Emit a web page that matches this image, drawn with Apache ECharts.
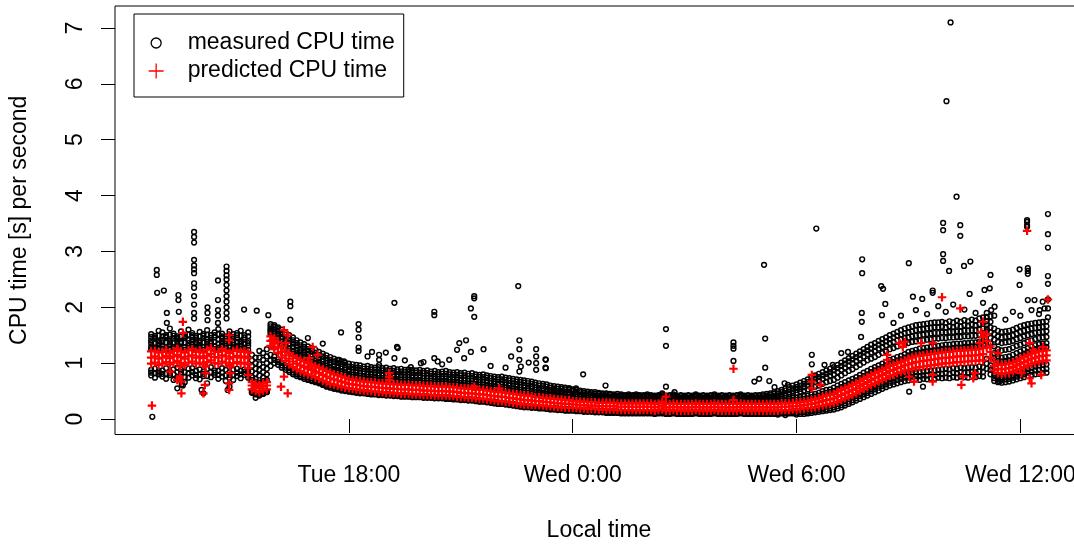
<!DOCTYPE html>
<html>
<head>
<meta charset="utf-8">
<script src="https://cdn.jsdelivr.net/npm/echarts@6/dist/echarts.min.js"></script>
<style>
  html, body { margin: 0; padding: 0; background: #fff; }
  #chart { width: 1074px; height: 546px; }
</style>
</head>
<body>
<div id="chart"></div>
<script>
// Samples every 6 minutes starting Tue 12:42 (hours counted from Tue 0:00).
// Values in hundredths of a CPU second per second.
// First line of each array: 12:42-12:54, then one line per hour, last line 36:00-36:42.
const firstSampleHour = 12.7;
const sampleStepHours = 0.1;

// Measured CPU time: several readings per sample, from the top of the cloud downwards
const measured1 = [152,149,158,
155,150,162,153,148,157,151,160,154,149,
156,152,159,150,155,161,153,148,157,152,
154,158,150,155,115,110,122,118,125,170,
168,164,160,155,150,146,141,137,134,130,
127,124,120,117,114,111,108,106,103,101,
99,98,97,96,94,95,93,92,93,91,
92,90,91,89,90,88,89,88,87,88,
86,87,85,86,84,85,86,84,83,84,
82,83,81,82,80,79,80,78,77,76,
75,76,74,73,72,71,70,69,68,67,
65,64,63,62,60,59,58,57,56,55,
53,52,51,50,49,48,48,47,46,46,
45,44,45,44,43,44,43,44,43,43,
44,43,42,43,46,42,43,44,42,43,
42,43,42,44,42,43,42,43,44,42,
43,42,43,42,43,44,42,43,42,43,
43,44,45,46,48,50,52,55,57,60,
62,65,68,71,74,78,81,84,87,90,
93,97,101,105,109,113,117,121,125,129,
133,136,140,143,146,150,153,156,159,162,
164,166,168,169,170,171,172,173,173,174,
172,175,173,176,174,177,175,178,176,180,
182,190,184,162,158,156,157,158,160,163,
166,168,170,171,172,173,174,175];

const measured2 = [147,146,149,
148,148,151,149,145,148,148,151,150,146,
148,149,151,145,150,152,148,144,150,147,
150,149,146,148,105,100,110,106,112,166,
165,161,156,151,145,141,136,132,129,125,
122,119,115,112,109,106,103,101,99,97,
94,93,92,91,90,90,89,88,88,87,
87,86,86,85,85,84,84,83,83,83,
82,82,81,81,80,81,81,80,79,79,
78,78,77,77,76,75,75,74,73,72,
71,71,70,69,68,67,66,65,64,63,
61,60,59,58,56,55,54,54,53,52,
50,49,48,47,46,46,45,45,44,44,
43,42,42,42,41,42,41,42,41,41,
42,41,40,41,44,40,41,42,40,41,
40,41,40,42,40,41,40,41,42,40,
41,40,41,40,41,42,40,41,40,41,
41,41,42,43,45,46,48,51,53,55,
57,60,63,66,69,72,75,78,81,84,
87,91,95,99,103,107,111,115,119,123,
126,129,133,136,139,143,146,149,151,154,
155,157,159,160,161,162,163,164,164,165,
164,166,165,167,166,168,167,169,168,170,
172,183,174,152,148,146,147,148,150,153,
156,158,160,162,163,164,165,166];

const measured3 = [141,144,139,
142,146,140,144,143,138,145,141,147,142,
140,145,143,139,146,142,144,140,143,141,
145,139,142,140,95,90,98,93,100,162,
162,158,152,146,140,135,130,126,123,120,
116,113,110,107,104,101,98,96,94,92,
89,88,87,86,85,84,84,83,82,82,
81,81,80,80,79,79,79,78,78,78,
77,77,77,76,76,76,76,75,75,74,
73,73,72,72,71,70,70,69,68,67,
66,66,65,64,63,62,61,60,59,58,
56,55,54,53,52,51,50,50,49,48,
46,45,44,44,43,43,42,42,41,41,
40,40,39,39,39,39,39,39,39,39,
39,39,38,39,41,38,38,39,38,38,
38,38,38,39,38,38,38,38,39,38,
38,38,38,38,38,39,38,38,38,38,
38,38,39,40,41,42,44,46,48,50,
52,54,57,60,63,66,69,72,75,78,
80,84,88,92,96,100,104,108,112,116,
119,122,126,129,132,136,138,141,143,145,
146,148,149,150,151,152,153,154,154,155,
155,156,156,157,157,158,158,159,159,160,
162,175,164,142,138,136,137,138,140,143,
145,148,150,152,154,155,156,157];

const measured4 = [136,136,136,
137,137,137,137,138,137,137,136,141,136,
137,137,138,138,138,135,139,136,136,137,
138,137,135,136,85,81,88,84,90,159,
157,152,146,140,134,129,124,121,118,115,
112,109,106,103,100,97,94,92,90,88,
85,84,83,82,81,80,80,79,78,78,
77,77,76,76,75,75,75,74,74,74,
73,73,73,72,72,72,72,71,71,70,
69,69,68,68,67,66,66,65,64,63,
62,62,61,60,59,58,57,56,55,54,
52,52,51,50,49,48,47,47,46,46,
43,43,42,42,41,41,40,40,39,39,
38,38,37,37,37,37,37,37,37,37,
37,37,36,37,39,36,36,37,36,36,
36,36,36,37,36,36,36,36,37,36,
36,36,36,36,36,37,36,36,36,36,
36,36,37,38,38,39,41,42,44,46,
47,49,51,53,56,58,60,63,66,68,
70,74,78,82,86,89,93,97,101,105,
108,111,115,118,121,125,127,130,132,134,
136,138,139,140,141,142,143,144,144,145,
145,146,146,147,147,148,148,149,149,150,
152,168,155,130,125,123,124,125,128,131,
133,136,139,141,143,145,146,147];

const measured5 = [130,128,133,
131,127,134,129,132,136,128,131,135,130,
133,129,132,136,130,128,134,131,129,133,
130,134,128,131,75,72,78,74,80,156,
152,146,139,133,127,122,118,115,112,109,
107,104,101,98,95,92,89,87,85,83,
80,79,78,77,76,75,75,74,73,73,
72,72,71,71,70,70,70,69,69,69,
68,68,68,67,67,67,67,66,66,65,
64,64,63,63,62,61,61,60,59,58,
57,57,56,55,54,53,52,51,51,50,
48,48,47,46,46,45,44,44,43,43,
40,40,39,39,38,38,38,37,37,37,
36,36,35,35,35,35,35,35,35,35,
35,35,34,35,37,34,34,35,34,34,
34,34,34,35,34,34,34,34,35,34,
34,34,34,34,34,35,34,34,34,34,
34,34,34,35,35,36,37,38,39,41,
38,39,41,42,44,45,47,50,52,53,
56,60,63,66,69,72,75,79,83,86,
90,93,96,99,102,106,108,111,113,116,
120,122,124,126,127,128,129,130,131,132,
133,133,134,135,135,136,136,137,137,138,
140,162,145,118,112,110,111,112,115,118,
121,124,127,130,132,134,135,136];

const measured6 = [125,125,126,
125,126,124,126,129,125,124,127,129,125,
128,124,128,131,125,124,129,127,123,127,
127,125,125,124,70,67,65,68,70,152,
148,141,134,128,122,117,113,110,107,104,
102,99,96,93,90,87,85,83,81,79,
76,75,74,73,72,71,71,70,69,69,
68,68,67,67,66,66,66,65,65,65,
64,64,64,63,63,63,63,62,62,61,
60,60,59,59,58,57,57,56,55,54,
53,53,52,51,50,49,48,47,47,46,
44,44,43,42,42,41,40,40,39,39,
36,36,35,35,34,34,34,33,33,33,
33,33,32,32,32,32,32,32,32,32,
32,32,31,32,34,31,31,32,31,31,
31,31,31,32,31,31,31,31,32,31,
31,31,31,31,31,32,31,31,31,31,
31,31,31,32,32,32,33,33,33,34,
34,35,36,37,39,40,42,45,47,48,
50,54,57,60,63,66,69,73,77,80,
84,87,90,93,96,100,102,105,107,110,
114,116,118,119,120,121,122,123,124,125,
126,126,127,128,128,129,129,130,130,131,
133,157,136,109,104,103,104,105,107,110,
114,117,120,123,125,127,128,129];

const measured7 = [88,90,86,
87,91,85,89,92,88,84,90,91,86,
89,85,90,93,87,86,91,88,84,88,
90,86,89,85,50,47,45,48,50,115,
112,107,101,96,91,87,83,80,78,75,
73,70,68,65,62,60,58,56,55,53,
52,51,50,49,48,48,47,46,46,45,
45,44,44,43,43,43,42,42,42,41,
41,41,40,40,40,39,39,39,38,38,
37,36,36,35,35,34,33,33,32,31,
30,29,28,28,27,26,25,24,23,23,
22,22,21,21,20,20,19,19,18,18,
17,17,17,16,16,16,15,15,15,14,
14,14,14,13,13,13,13,13,13,13,
13,13,12,13,14,12,12,13,12,12,
12,12,12,13,12,12,12,12,13,12,
12,12,12,12,12,13,12,12,12,12,
12,12,12,12,12,12,13,13,13,14,
14,15,15,16,17,18,19,20,22,23,
25,27,30,33,36,39,42,46,50,53,
56,59,62,65,68,71,73,76,78,80,
81,82,84,84,85,86,87,87,88,89,
90,89,91,90,92,91,92,93,92,94,
93,108,96,79,76,75,76,77,79,82,
84,86,89,92,94,96,97,98];

const measured8 = [83,82,83,
81,81,82,80,84,84,75,82,84,79,
80,81,77,84,83,79,83,78,79,79,
83,80,84,80,48,45,43,46,49,105,
106,102,96,92,87,83,80,77,75,72,
70,68,66,63,60,58,56,54,53,51,
50,49,48,47,47,46,45,45,44,44,
43,43,42,42,41,41,41,40,40,40,
39,39,39,38,38,38,37,37,36,36,
35,35,34,34,33,32,32,31,30,29,
28,28,27,26,25,24,23,22,22,21,
21,20,20,19,18,18,17,17,16,16,
16,15,15,14,14,14,13,13,13,12,
12,12,12,11,11,11,11,11,11,11,
11,11,10,11,12,10,10,11,10,10,
10,10,10,11,10,10,10,10,11,10,
10,10,10,10,10,11,10,10,10,10,
10,10,10,10,10,10,11,10,11,12,
11,12,12,13,14,15,16,17,18,19,
21,23,25,28,31,34,37,41,44,47,
50,53,56,59,62,65,67,70,72,74,
75,76,77,77,78,78,80,79,81,81,
82,81,83,82,84,83,83,84,84,85,
84,99,88,73,71,70,71,72,74,76,
78,80,83,85,87,88,89,90];

const measured9 = [78,74,80,
76,72,79,70,75,81,66,74,78,73,
71,77,64,75,79,72,76,68,74,70,
77,73,79,74,47,44,42,45,48,95,
100,97,92,88,84,80,77,75,72,70,
68,66,64,61,58,56,54,53,51,50,
49,48,47,46,46,45,44,44,43,43,
42,42,41,41,40,40,40,39,39,39,
38,38,38,37,37,37,36,36,35,35,
34,34,33,33,32,31,31,30,29,28,
27,27,26,25,24,23,22,21,21,20,
20,19,19,18,17,17,16,16,15,15,
15,14,14,13,13,13,12,12,12,11,
11,11,11,10,10,10,10,10,10,10,
10,10,9,10,10,9,9,10,9,9,
9,9,9,10,9,9,9,9,10,9,
9,9,9,9,9,10,9,9,9,9,
9,9,9,9,9,8,10,7,10,10,
8,9,9,10,11,12,13,14,15,16,
17,19,21,24,27,30,33,36,39,42,
45,48,51,54,57,60,62,64,66,68,
69,70,71,70,72,71,73,72,74,73,
74,73,75,74,76,75,74,76,75,77,
76,90,80,68,66,65,66,67,69,71,
73,75,77,79,80,81,82,83];

// Predicted CPU time: upper edge, centre and lower edge of the model band per sample
const predictedUpper = [121,122,119,
120,124,118,122,126,121,119,123,125,120,
123,119,124,127,121,120,125,122,118,122,
124,120,122,119,66,63,61,64,66,148,
145,138,130,124,118,113,109,106,103,100,
98,95,92,89,86,83,80,78,76,74,
71,70,69,68,67,66,66,65,64,64,
63,63,62,62,61,61,61,60,60,60,
59,59,59,58,58,58,58,57,57,56,
55,55,54,54,53,52,52,51,50,49,
48,48,47,46,45,44,43,42,42,41,
39,39,38,37,37,36,35,35,34,34,
32,32,31,31,30,30,30,29,29,29,
29,29,28,28,28,28,28,28,28,28,
28,28,27,28,31,27,27,28,27,27,
27,27,27,28,27,27,27,27,28,27,
27,27,27,27,27,28,27,27,27,27,
27,27,27,27,27,27,28,28,28,29,
29,30,31,32,34,35,37,40,42,43,
45,49,52,55,58,61,64,68,72,75,
79,82,85,88,91,95,97,100,102,105,
108,110,112,113,114,115,116,117,118,119,
120,120,121,122,122,123,123,124,124,125,
127,152,130,103,98,97,98,99,101,104,
108,111,114,117,119,121,122,123];

const predictedCentre = [110,112,108,
110,113,109,112,115,111,108,112,114,110,
112,109,113,116,111,110,114,112,108,111,
113,110,112,109,60,57,55,58,60,140,
135,128,120,114,108,103,99,96,93,90,
88,85,82,79,76,73,71,69,67,65,
63,62,61,60,59,58,58,57,56,56,
55,55,54,54,53,53,53,52,52,52,
51,51,51,50,50,50,50,49,49,48,
47,47,46,46,45,44,44,43,42,41,
40,40,39,38,37,36,35,34,34,33,
32,32,31,30,30,29,28,28,27,27,
26,26,25,25,24,24,24,23,23,23,
23,23,22,22,22,22,22,22,22,22,
22,22,21,22,24,21,21,22,21,21,
21,21,21,22,21,21,21,21,22,21,
21,21,21,21,21,22,21,21,21,21,
21,21,21,21,21,21,22,22,22,23,
23,24,25,26,27,28,30,32,34,35,
37,40,43,46,49,52,55,59,63,66,
70,73,76,79,82,86,88,91,93,96,
98,100,102,103,104,105,106,107,108,109,
110,110,111,112,112,113,113,114,114,115,
116,140,120,95,90,89,90,91,93,96,
99,102,105,108,110,112,113,114];

const predictedLower = [99,101,97,
99,102,98,101,104,100,97,101,103,99,
101,98,102,105,100,99,103,101,97,100,
102,99,101,98,53,50,48,51,53,131,
125,118,110,104,98,93,89,86,83,80,
78,75,72,69,66,63,62,60,58,56,
55,54,53,52,51,50,50,49,48,48,
47,47,46,46,45,45,45,44,44,44,
43,43,43,42,42,42,42,41,41,40,
39,39,38,38,37,36,36,35,34,33,
32,32,31,30,29,28,27,26,26,25,
25,25,24,23,23,22,21,21,20,20,
20,20,19,19,18,18,18,17,17,17,
17,17,16,16,16,16,16,16,16,16,
16,16,15,16,17,15,15,16,15,15,
15,15,15,16,15,15,15,15,16,15,
15,15,15,15,15,16,15,15,15,15,
15,15,15,15,15,15,16,16,16,17,
17,18,19,20,20,21,23,24,26,27,
29,31,34,37,40,43,46,50,54,57,
61,64,67,70,73,77,79,82,84,87,
88,90,92,93,94,95,96,97,98,99,
100,100,101,102,102,103,103,104,104,105,
105,128,110,87,82,81,82,83,85,88,
90,93,96,99,101,103,104,105];

// Scattered measured readings away from the main cloud: [hour, CPU s/s]
const measuredOutliers = [
[12.73,0.04],[12.85,2.67],[12.85,2.58],[12.86,2.26],[13.04,2.30],[13.12,1.90],[13.12,1.72],
[13.43,2.22],[13.43,2.13],[13.44,1.92],[13.40,0.55],[13.52,0.62],[13.55,0.60],
[13.85,3.35],[13.85,3.26],[13.85,3.16],[13.85,2.85],[13.85,2.75],[13.85,2.68],[13.85,2.61],
[13.85,2.43],[13.85,2.35],[13.85,2.20],[13.85,2.05],[13.85,1.90],[13.85,1.80],
[14.05,0.52],[14.10,0.46],[14.21,2.00],[14.21,1.90],[14.21,1.77],
[14.49,2.48],[14.49,2.13],[14.49,1.95],[14.49,1.85],[14.49,1.72],
[14.72,2.73],[14.72,2.65],[14.72,2.57],[14.72,2.50],[14.72,2.40],[14.72,2.30],[14.72,2.20],
[14.72,2.10],[14.72,2.00],[14.72,1.90],[14.72,1.80],[14.75,0.52],[14.80,0.58],
[15.19,1.96],[15.50,0.38],[15.53,1.94],[15.84,1.86],[16.43,2.10],[16.43,2.02],[16.43,1.78],
[16.90,1.45],[17.30,1.35],[17.74,1.06],[17.79,1.55],[17.87,1.03],
[18.26,1.70],[18.26,1.60],[18.26,1.46],[18.26,1.28],[18.26,1.22],[18.50,1.12],
[18.62,1.20],[18.81,1.15],[18.81,1.06],[18.81,0.97],[18.99,1.19],
[19.22,2.08],[19.22,1.09],[19.29,1.29],[19.31,1.27],[19.50,1.05],[19.66,0.93],[19.93,1.00],
[20.00,1.02],[20.29,1.92],[20.29,1.86],[20.29,1.09],[20.38,1.03],[20.50,0.98],[20.69,1.06],
[20.90,1.24],[20.96,1.36],[21.09,1.09],[21.14,1.41],[21.27,1.98],[21.27,1.20],
[21.36,2.20],[21.36,2.16],[21.36,1.83],[21.61,1.25],[21.80,0.95],[22.20,0.92],
[22.35,1.12],[22.54,2.38],[22.57,1.41],[22.57,1.25],[22.57,1.06],[22.57,0.85],[22.61,0.94],[22.82,1.01],
[23.02,1.25],[23.02,1.12],[23.02,1.00],[23.02,0.88],[23.27,1.07],[23.27,0.92],[23.28,1.06],[23.28,0.91],
[23.50,0.53],[23.91,0.55],[24.09,0.55],[24.28,0.80],[24.88,0.60],[25.12,0.39],[25.56,0.37],
[26.50,1.61],[26.50,1.31],[26.50,0.58],[26.73,0.48],
[28.31,1.37],[28.31,1.31],[28.31,1.26],[28.31,1.04],
[28.87,0.67],[29.00,0.72],[29.13,2.76],[29.16,1.44],[29.16,0.92],[29.27,0.68],[29.41,0.57],
[29.68,0.64],[29.77,0.61],
[30.41,1.15],[30.41,0.98],[30.53,3.41],[30.75,0.97],[30.97,0.97],[31.20,1.18],[31.38,1.20],
[31.73,1.47],[31.75,1.90],[31.75,1.74],[31.76,2.86],[31.76,2.61],
[32.27,2.38],[32.29,1.86],[32.32,2.33],[32.38,2.06],[32.60,1.72],[32.80,1.85],
[33.01,2.79],[33.02,0.49],[33.12,2.19],[33.20,1.95],[33.37,2.15],[33.39,0.58],[33.50,1.88],
[33.65,2.30],[33.65,2.26],[33.80,2.02],
[33.93,3.51],[33.93,3.38],[33.93,2.95],[33.93,2.83],[34.00,1.92],
[34.02,5.69],[34.09,2.65],[34.13,7.10],[34.20,2.05],[34.29,3.98],
[34.39,3.47],[34.39,3.28],[34.49,2.74],[34.50,1.96],[34.64,2.24],[34.66,2.82],[34.80,1.90],
[35.00,2.08],[35.04,2.31],[35.18,2.34],[35.20,2.58],[35.22,1.95],[35.30,1.85],[35.31,2.01],
[35.44,0.67],[35.60,1.78],[35.80,1.92],[35.98,2.68],[35.98,2.40],[36.00,1.85],
[36.18,3.56],[36.18,3.53],[36.18,3.47],[36.18,3.44],
[36.20,2.70],[36.20,2.65],[36.20,2.60],[36.20,2.13],[36.30,1.95],[36.38,2.13],[36.50,1.88],
[36.52,1.95],[36.60,2.10],[36.65,1.98],
[36.74,3.67],[36.74,3.31],[36.74,3.07],[36.74,2.56],[36.74,2.42],[36.74,2.14],[36.74,1.98],[36.74,1.82]
];

// Predicted values that fall outside the model band: [hour, CPU s/s]
const predictedOutliers = [
[12.72,0.24],[13.21,0.85],[13.40,0.70],[13.47,0.76],[13.47,0.94],[13.51,0.46],[13.51,0.67],
[13.55,1.74],[13.55,1.54],
[14.10,0.46],[14.14,0.61],[14.16,0.82],[14.16,0.94],
[14.79,0.52],[14.79,0.64],[14.79,1.41],[14.79,1.50],[14.82,0.82],[14.82,0.94],
[15.30,0.91],[15.30,0.79],[15.95,1.41],[15.99,1.29],
[16.18,1.20],[16.18,0.58],[16.26,1.59],[16.26,0.76],[16.31,1.36],[16.36,1.50],[16.36,0.46],
[16.94,1.09],[16.94,0.94],[17.03,1.29],[17.03,0.88],[17.16,1.15],
[19.08,0.82],[19.08,0.76],[19.08,0.70],[21.36,0.58],[22.03,0.55],
[26.50,0.40],[28.31,0.90],[28.31,0.34],
[30.41,0.79],[30.41,0.67],[30.41,0.55],[30.64,0.61],[32.43,1.15],[32.43,1.06],
[32.76,1.36],[32.85,1.29],[32.90,1.38],[33.02,0.76],[33.15,0.67],
[33.34,1.36],[33.65,1.36],[33.65,0.79],[33.65,0.67],[33.90,2.18],[34.39,1.98],
[34.42,0.61],[34.46,0.76],[34.74,0.73],[34.78,0.82],
[34.91,1.36],[34.95,1.56],[35.00,1.74],[35.00,1.47],[35.40,1.18],
[36.03,0.82],[36.18,3.37],[36.25,1.36],[36.25,0.73],[36.30,0.64],[36.34,1.24],
[36.56,0.79],[36.61,1.29],[36.74,2.14]
];

// Axis ticks
const timeTickHours = [18, 24, 30, 36];
const timeTickLabels = ['Tue 18:00', 'Wed 0:00', 'Wed 6:00', 'Wed 12:00'];
const cpuTicks = [0, 1, 2, 3, 4, 5, 6, 7];

const sampleHours = measured1.map((_, i) =>
  Math.round((firstSampleHour + i * sampleStepHours) * 100) / 100);

// pair each per-sample reading (hundredths) with its sample time
function withHours(hundredths) {
  return hundredths.map((v, i) => [sampleHours[i], v / 100]);
}

const measuredData = [].concat(
  withHours(measured1), withHours(measured2), withHours(measured3),
  withHours(measured4), withHours(measured5), withHours(measured6),
  withHours(measured7), withHours(measured8), withHours(measured9),
  measuredOutliers);
const predictedData = [].concat(
  withHours(predictedUpper), withHours(predictedCentre), withHours(predictedLower),
  predictedOutliers);

const FONT = '"Liberation Sans", Arial, Helvetica, sans-serif';
const plusSymbol = 'path://M37,0H63V37H100V63H63V100H37V63H0V37H37Z';
const legendCircle = 'path://M0,0M15,15M12.5,7.5A5,5,0,1,1,2.5,7.5A5,5,0,1,1,12.5,7.5Z';
const legendPlus = 'path://M0,0M15,15M0,7.5L15,7.5M7.5,0L7.5,15';

const chart = echarts.init(document.getElementById('chart'), null, { renderer: 'canvas' });
chart.setOption({
  animation: false,
  backgroundColor: '#fff',
  textStyle: { fontFamily: FONT },
  grid: {
    left: 115, right: -9, top: 6, bottom: 111.5,
    show: true, borderColor: '#000', borderWidth: 1,
    containLabel: false, outerBoundsMode: 'none'
  },
  legend: {
    left: 134, top: 14, orient: 'vertical',
    padding: [15, 9, 12, 14],
    borderColor: '#000', borderWidth: 1, borderRadius: 0,
    itemWidth: 15, itemHeight: 15, itemGap: 0,
    selectedMode: false,
    textStyle: { fontSize: 23, color: '#000', fontFamily: FONT, lineHeight: 28, padding: [0, 0, 0, 19] },
    data: [
      { name: 'measured CPU time', icon: legendCircle,
        itemStyle: { color: 'rgba(0,0,0,0)', borderColor: '#000', borderWidth: 1.3 } },
      { name: 'predicted CPU time', icon: legendPlus,
        itemStyle: { color: 'rgba(0,0,0,0)', borderColor: '#ff0000', borderWidth: 1.3 } }
    ]
  },
  xAxis: {
    type: 'value', min: 11.73, max: 37.68,
    name: 'Local time', nameLocation: 'middle', nameGap: 85,
    nameTextStyle: { fontSize: 23, color: '#000', fontFamily: FONT },
    axisLine: { show: false },
    splitLine: { show: false },
    axisTick: { show: true, length: 14, customValues: timeTickHours, lineStyle: { color: '#000', width: 1 } },
    axisLabel: {
      customValues: timeTickHours, fontSize: 23, color: '#000', fontFamily: FONT, margin: 30,
      formatter: v => timeTickLabels[timeTickHours.indexOf(Math.round(v))]
    }
  },
  yAxis: {
    type: 'value', min: -0.277, max: 7.394,
    name: 'CPU time [s] per second', nameLocation: 'middle', nameGap: 84,
    nameTextStyle: { fontSize: 23, color: '#000', fontFamily: FONT },
    axisLine: { show: false },
    splitLine: { show: false },
    axisTick: { show: true, length: 14, customValues: cpuTicks, lineStyle: { color: '#000', width: 1 } },
    axisLabel: {
      customValues: cpuTicks, rotate: 90, fontSize: 23, color: '#000', fontFamily: FONT, margin: 28
    }
  },
  series: [
    {
      name: 'measured CPU time', type: 'scatter', data: measuredData,
      symbol: 'circle', symbolSize: 4.8,
      itemStyle: { color: 'rgba(0,0,0,0)', borderColor: '#000', borderWidth: 1.45, opacity: 1 },
      emphasis: { disabled: true }, silent: true, progressive: 0, large: false
    },
    {
      name: 'predicted CPU time', type: 'scatter', data: predictedData,
      symbol: plusSymbol, symbolSize: 8.5,
      itemStyle: { color: '#ff0000', opacity: 1 },
      emphasis: { disabled: true }, silent: true, progressive: 0, large: false
    }
  ]
});
</script>
</body>
</html>
